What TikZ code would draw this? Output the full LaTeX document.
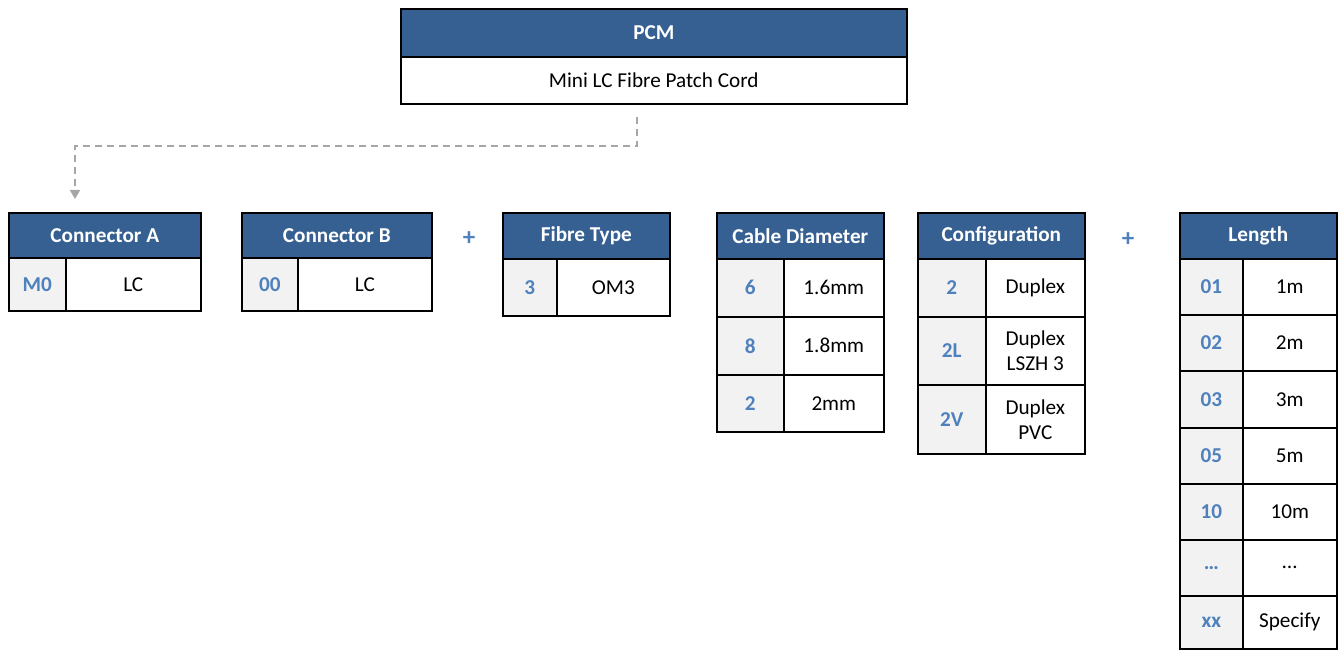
\documentclass[tikz,border=0pt]{standalone}
\usepackage{fontspec}
\setmainfont{Carlito}
\usetikzlibrary{arrows.meta}
\definecolor{hdrblue}{HTML}{366092}
\definecolor{codeblue}{HTML}{4F81BD}
\definecolor{codegray}{HTML}{F2F2F2}
\definecolor{linkgray}{HTML}{A6A6A6}
\tikzset{
 cellbase/.style={draw=black, line width=1.6pt, anchor=north west, inner sep=0pt, align=center, font=\fontsize{21.2}{25}\selectfont},
 hdr/.style={cellbase, fill=hdrblue, text=white, font=\fontsize{21.2}{25}\selectfont\bfseries},
 code/.style={cellbase, fill=codegray, text=codeblue, font=\fontsize{21.2}{25}\selectfont\bfseries},
 val/.style={cellbase, fill=white},
 plussign/.style={text=codeblue, font=\fontsize{25}{25}\selectfont\bfseries},
 link/.style={draw=linkgray, line width=1.8pt, dash pattern=on 7pt off 5pt, -{Triangle[width=10pt,length=9pt]}}
}
\begin{document}
\begin{tikzpicture}[x=1pt,y=-1pt]
\useasboundingbox (0,0) rectangle (1342,650);
% PCM
\node[hdr, minimum width=506pt, minimum height=48pt] (pcmh) at (400,8) {PCM};
\node[val, minimum width=506pt, minimum height=47pt] (pcmb) at (400,56) {Mini LC Fibre Patch Cord};
% Connector A
\node[hdr, minimum width=192pt, minimum height=45pt] (cah) at (8,212) {Connector A};
\node[code, minimum width=57pt, minimum height=53pt] (cac) at (8,257) {M0};
\node[val, minimum width=135pt, minimum height=53pt] (cav) at (65,257) {LC};
% Connector B
\node[hdr, minimum width=190pt, minimum height=45pt] (cbh) at (241,212) {Connector B};
\node[code, minimum width=56pt, minimum height=53pt] (cbc) at (241,257) {00};
\node[val, minimum width=134pt, minimum height=53pt] (cbv) at (297,257) {LC};
\node[plussign] (plusa) at (469,239) {+};
% Fibre Type
\node[hdr, minimum width=167pt, minimum height=46pt] (fth) at (502,212) {Fibre Type};
\node[code, minimum width=54pt, minimum height=57pt] (ftc) at (502,258) {3};
\node[val, minimum width=113pt, minimum height=57pt] (ftv) at (556,258) {OM3};
% Cable Diameter
\node[hdr, minimum width=167pt, minimum height=46pt] (cdh) at (716,212) {Cable Diameter};
\node[code, minimum width=67pt, minimum height=58pt] (cdc1) at (716,258) {6};
\node[val, minimum width=100pt, minimum height=58pt] (cdv1) at (783,258) {1.6mm};
\node[code, minimum width=67pt, minimum height=58pt] (cdc2) at (716,316) {8};
\node[val, minimum width=100pt, minimum height=58pt] (cdv2) at (783,316) {1.8mm};
\node[code, minimum width=67pt, minimum height=57pt] (cdc3) at (716,374) {2};
\node[val, minimum width=100pt, minimum height=57pt] (cdv3) at (783,374) {2mm};
% Configuration
\node[hdr, minimum width=167pt, minimum height=46pt] (cfh) at (917,212) {Configuration};
\node[code, minimum width=68pt, minimum height=58pt] (cfc1) at (917,258) {2};
\node[val, minimum width=99pt, minimum height=58pt] (cfv1) at (985,258) {Duplex};
\node[code, minimum width=68pt, minimum height=68pt] (cfc2) at (917,316) {2L};
\node[val, minimum width=99pt, minimum height=68pt] (cfv2) at (985,316) {Duplex\\LSZH 3};
\node[code, minimum width=68pt, minimum height=69pt] (cfc3) at (917,384) {2V};
\node[val, minimum width=99pt, minimum height=69pt] (cfv3) at (985,384) {Duplex\\PVC};
\node[plussign] (plusb) at (1128,240) {+};
% Length
\node[hdr, minimum width=157pt, minimum height=46pt] (lnh) at (1179,212) {Length};
\node[code, minimum width=63pt, minimum height=56pt] (lnc1) at (1179,258) {01};
\node[val, minimum width=94pt, minimum height=56pt] (lnv1) at (1242,258) {1m};
\node[code, minimum width=63pt, minimum height=56pt] (lnc2) at (1179,314) {02};
\node[val, minimum width=94pt, minimum height=56pt] (lnv2) at (1242,314) {2m};
\node[code, minimum width=63pt, minimum height=57pt] (lnc3) at (1179,370) {03};
\node[val, minimum width=94pt, minimum height=57pt] (lnv3) at (1242,370) {3m};
\node[code, minimum width=63pt, minimum height=56pt] (lnc4) at (1179,427) {05};
\node[val, minimum width=94pt, minimum height=56pt] (lnv4) at (1242,427) {5m};
\node[code, minimum width=63pt, minimum height=56pt] (lnc5) at (1179,483) {10};
\node[val, minimum width=94pt, minimum height=56pt] (lnv5) at (1242,483) {10m};
\node[code, minimum width=63pt, minimum height=56pt] (lnc6) at (1179,539) {…};
\node[val, minimum width=94pt, minimum height=56pt] (lnv6) at (1242,539) {…};
\node[code, minimum width=63pt, minimum height=53pt] (lnc7) at (1179,595) {xx};
\node[val, minimum width=94pt, minimum height=53pt] (lnv7) at (1242,595) {Specify};
% dashed link
\coordinate (lstart) at (637,117);
\coordinate (lbend) at (75,146);
\coordinate (lend) at (75,199);
\draw[link] (lstart) |- (lbend) -- (lend);
\end{tikzpicture}
\end{document}
